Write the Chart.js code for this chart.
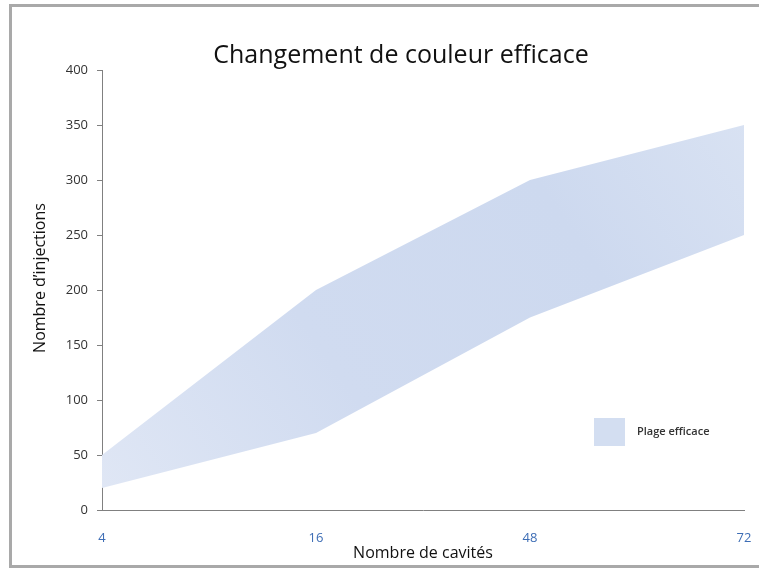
<!DOCTYPE html>
<html lang="fr">
<head>
<meta charset="utf-8">
<title>Changement de couleur efficace</title>
<script src="https://cdn.jsdelivr.net/npm/chart.js@4/dist/chart.umd.min.js"></script>
<style>
  html, body { margin: 0; padding: 0; background: #fff; overflow: hidden; }
  #frame { position: absolute; left: 9px; top: 4px; width: 760px; height: 558px; border: 3px solid #a9a9a9; border-right: 0; }
  #wrap { position: absolute; left: 0; top: 0; width: 759px; height: 569px; }
  #chart { display: block; width: 759px; height: 569px; }
</style>
</head>
<body>
<div id="frame"></div>
<div id="wrap"><canvas id="chart" width="759" height="569"></canvas></div>
<script>
// Nombre de cavités du moule
const cavites = ['4', '16', '48', '72'];
// Bornes de la plage efficace (nombre d'injections)
const injectionsMin = [20, 70, 175, 250];
const injectionsMax = [50, 200, 300, 350];
const yMin = 0;
const yMax = 400;
const yStep = 50;

const FONT = '"Open Sans", "DejaVu Sans", sans-serif';
const bandColor = '#d3def1';

// soft gradient for the band, lighter at its ends
function bandFill(context) {
    const area = context.chart.chartArea;
    if (!area) return bandColor;
    const g = context.chart.ctx.createLinearGradient(area.left, area.bottom, area.right, area.top);
    g.addColorStop(0, '#e0e7f5');
    g.addColorStop(0.35, '#d0dbf0');
    g.addColorStop(0.7, '#cdd9ef');
    g.addColorStop(1, '#dae3f3');
    return g;
}

// Chart title and y axis title
const titlePlugin = {
    id: 'chartTitles',
    afterDraw(chart) {
        const ctx = chart.ctx;
        ctx.save();
        ctx.font = '25px ' + FONT;
        ctx.fillStyle = '#111';
        ctx.textAlign = 'center';
        ctx.textBaseline = 'alphabetic';
        ctx.fillText('Changement de couleur efficace', 401, 63);

        ctx.translate(40, 278);
        ctx.rotate(-Math.PI / 2);
        ctx.font = '16px ' + FONT;
        ctx.textBaseline = 'middle';
        ctx.fillText('Nombre d’injections', 0, 0);
        ctx.restore();
    }
};

// Legend box inside the plot area
const legendPlugin = {
    id: 'bandLegend',
    afterDraw(chart) {
        const ctx = chart.ctx;
        const label = chart.data.datasets[1].label;
        ctx.save();
        ctx.fillStyle = bandColor;
        ctx.fillRect(594, 418, 31, 28);
        ctx.font = '600 11px ' + FONT;
        ctx.fillStyle = '#333';
        ctx.textAlign = 'left';
        ctx.textBaseline = 'middle';
        ctx.fillText(label, 637, 432);
        ctx.restore();
    }
};

const canvas = document.querySelector('#chart');

new Chart(canvas.getContext('2d'), {
    type: 'line',
    data: {
        labels: cavites,
        datasets: [{
            label: 'Minimum',
            data: injectionsMin,
            borderColor: 'transparent',
            borderWidth: 0,
            pointRadius: 0,
            tension: 0,
            fill: false
        }, {
            label: 'Plage efficace',
            data: injectionsMax,
            borderColor: 'transparent',
            borderWidth: 0,
            pointRadius: 0,
            tension: 0,
            backgroundColor: bandFill,
            fill: '-1'
        }]
    },
    options: {
        responsive: false,
        animation: false,
        layout: { padding: { top: 70, left: 20, right: 15, bottom: 0 } },
        plugins: {
            legend: { display: false },
            title: { display: false },
            tooltip: { enabled: false }
        },
        scales: {
            x: {
                type: 'category',
                offset: false,
                grid: { display: false, drawTicks: false },
                border: { display: true, color: '#808080', width: 1 },
                ticks: { color: '#3d6db5', font: { family: FONT, size: 13 }, padding: 20, maxRotation: 0 },
                title: {
                    display: true,
                    text: 'Nombre de cavités',
                    color: '#111',
                    font: { family: FONT, size: 16 },
                    padding: { top: 0, bottom: 6 }
                },
                afterFit(scale) {
                    // tick padding would otherwise widen the side margins
                    scale.height = 59;
                    scale.paddingLeft = 0;
                    scale.paddingRight = 0;
                }
            },
            y: {
                min: yMin,
                max: yMax,
                grid: { drawOnChartArea: false, drawTicks: true, tickLength: 5, color: '#808080' },
                border: { display: true, color: '#808080', width: 1 },
                ticks: { stepSize: yStep, color: '#333', font: { family: FONT, size: 13 }, padding: 9 },
                afterFit(scale) { scale.width = 82; }
            }
        }
    },
    plugins: [titlePlugin, legendPlugin]
});
</script>
</body>
</html>
